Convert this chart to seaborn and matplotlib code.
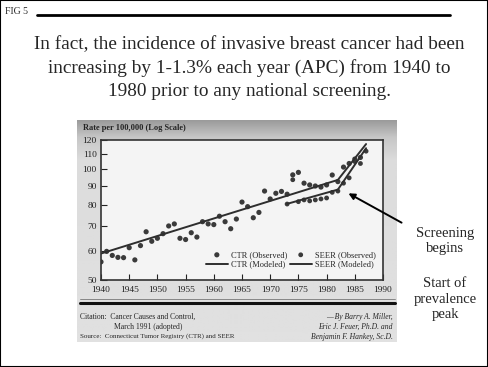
import matplotlib
matplotlib.use("Agg")
import numpy as np
import matplotlib.pyplot as plt
import seaborn as sns
from matplotlib.lines import Line2D
from matplotlib.patches import Rectangle
from matplotlib.ticker import FixedLocator, NullLocator

# data (rate per 100,000, log scale)
ctr_years = [1940, 1941, 1942, 1943, 1944, 1945, 1946, 1947, 1948, 1949,
             1950, 1951, 1952, 1953, 1954, 1955, 1956, 1957, 1958, 1959,
             1960, 1961, 1962, 1963, 1964, 1965, 1966, 1967, 1968, 1969,
             1970, 1971, 1972, 1973, 1974, 1975, 1976, 1977, 1978, 1979,
             1980, 1981, 1982, 1983, 1984, 1985, 1986]
ctr_rate = [56.0, 59.8, 58.3, 57.6, 57.5, 61.2, 56.7, 62.0, 67.6, 63.7,
            64.9, 66.8, 70.1, 71.0, 64.9, 64.4, 67.2, 65.4, 72.0, 71.0,
            70.7, 74.5, 72.0, 68.9, 73.2, 81.4, 79.1, 73.8, 76.3, 87.2,
            83.0, 86.0, 87.0, 85.5, 96.5, 98.0, 91.6, 90.6, 90.0, 89.4,
            90.6, 96.4, 92.5, 101.3, 103.6, 106.5, 107.6]

seer_years = [1973, 1974, 1975, 1976, 1977, 1978, 1979, 1980, 1981, 1982,
              1983, 1984, 1985, 1986, 1987]
seer_rate = [80.4, 93.6, 81.6, 82.5, 82.0, 82.5, 83.0, 83.5, 86.5, 87.2,
             91.6, 94.7, 104.9, 103.6, 111.9]

ctr_model_years = [1940, 1982, 1987]
ctr_model_rate = [59.0, 93.5, 117.0]
seer_model_years = [1973, 1982, 1987]
seer_model_rate = [80.5, 88.0, 114.0]

yticks = [50, 60, 70, 80, 90, 100, 110, 120]
xticks = [1940, 1945, 1950, 1955, 1960, 1965, 1970, 1975, 1980, 1985, 1990]

W, H = 488, 367


def fx(x):
    return x / W


def fy(y):
    return 1 - y / H


sns.set_theme(style="white")
plt.rcParams['font.family'] = ['Liberation Serif', 'DejaVu Serif']

fig = plt.figure(figsize=(4.88, 3.67), dpi=100)
fig.patch.set_facecolor('white')

# the photographed chart sits on a grey card
bg = fig.add_axes([fx(77), fy(342), (397 - 77) / W, (342 - 120) / H])
rows = np.arange(222)
shade = np.interp(rows, [0, 18, 40, 221], [0.60, 0.78, 0.86, 0.88])
bg.imshow(shade[:, None], cmap='gray', vmin=0, vmax=1, aspect='auto',
          extent=[0, 1, 0, 1])
bg.axis('off')

ax = fig.add_axes([fx(101), fy(280), (383 - 101) / W, 140 / H])
ax.set_facecolor('#f4f4f4')

sns.scatterplot(x=ctr_years, y=ctr_rate, ax=ax, color='#3a3a3a', s=14,
                edgecolor='none', label='CTR (Observed)')
sns.scatterplot(x=seer_years, y=seer_rate, ax=ax, color='#3a3a3a', s=12,
                edgecolor='none', label='SEER (Observed)')
sns.lineplot(x=ctr_model_years, y=ctr_model_rate, ax=ax, color='#2e2e2e',
             lw=1.4, label='CTR (Modeled)')
sns.lineplot(x=seer_model_years, y=seer_model_rate, ax=ax, color='#2e2e2e',
             lw=1.4, label='SEER (Modeled)')

ax.set_yscale('log')
ax.set_ylim(50, 120)
ax.set_xlim(1940, 1990)
ax.yaxis.set_major_locator(FixedLocator(yticks))
ax.yaxis.set_minor_locator(NullLocator())
ax.set_yticklabels([str(t) for t in yticks])
ax.set_xticks(xticks)
ax.set_xticklabels([str(t) for t in xticks])
ax.tick_params(direction='in', length=4, width=0.8, labelsize=6.8,
               colors='#222222', bottom=True, left=True)
ax.tick_params(axis='x', pad=4)
ax.tick_params(axis='y', pad=3)
for s in ax.spines.values():
    s.set_color('#333333')
    s.set_linewidth(1.2)

h, l = ax.get_legend_handles_labels()
order = [0, 2, 1, 3]
ax.legend([h[i] for i in order], [l[i] for i in order], ncol=2,
          loc='upper left', bbox_to_anchor=((206 - 101) / 282, (280 - 251) / 140),
          frameon=False, fontsize=6, handlelength=2.6, handletextpad=0.4,
          columnspacing=0.3, labelspacing=0.2, borderpad=0, borderaxespad=0)

fig.text(fx(83), fy(128), 'Rate per 100,000 (Log Scale)', fontsize=6,
         color='#222222', va='center', fontweight='bold')

# slide text
fig.text(fx(5), fy(12), 'FIG 5', fontsize=7, va='center')
fig.add_artist(Line2D([fx(37), fx(450)], [fy(15), fy(15)], color='black', lw=2))
title = ['In fact, the incidence of invasive breast cancer had been',
         'increasing by 1-1.3% each year (APC) from 1940 to',
         '1980 prior to any national screening.']
for i, line in enumerate(title):
    fig.text(fx(249), fy(45 + 23 * i), line, fontsize=13.9, ha='center', va='center')

# citation block under the chart
fig.add_artist(Line2D([fx(80), fx(395)], [fy(299), fy(299)], color='#777777', lw=0.6))
fig.add_artist(Line2D([fx(80), fx(395)], [fy(302.5), fy(302.5)], color='#111111', lw=2.2))
fig.text(fx(80), fy(317), 'Citation:  Cancer Causes and Control,', fontsize=5.5, va='center')
fig.text(fx(114), fy(327), 'March 1991 (adopted)', fontsize=5.5, va='center')
fig.text(fx(80), fy(336), 'Source:  Connecticut Tumor Registry (CTR) and SEER', fontsize=5,
         va='center')
cite = ['\u2014 By Barry A. Miller,', 'Eric J. Feuer, Ph.D. and',
        'Benjamin F. Hankey, Sc.D.']
for i, line in enumerate(cite):
    fig.text(fx(393), fy(317 + 10 * i), line, fontsize=5.5, ha='right',
             va='center', style='italic')

# annotation on the right
ax.annotate('', xy=(fx(346), fy(192)), xycoords='figure fraction',
            xytext=(fx(404), fy(224)), textcoords='figure fraction',
            arrowprops=dict(arrowstyle='-|>', color='black', lw=1.4,
                            mutation_scale=9), annotation_clip=False)
fig.text(fx(445), fy(241), 'Screening\nbegins', fontsize=10.5, ha='center',
         va='center', linespacing=1.25)
fig.text(fx(445), fy(299), 'Start of\nprevalence\npeak', fontsize=10.5,
         ha='center', va='center', linespacing=1.25)

fig.add_artist(Rectangle((0, 0), 1, 1, fill=False, ec='black', lw=1.5,
                         transform=fig.transFigure))

fig.savefig('out.png', dpi=100)
